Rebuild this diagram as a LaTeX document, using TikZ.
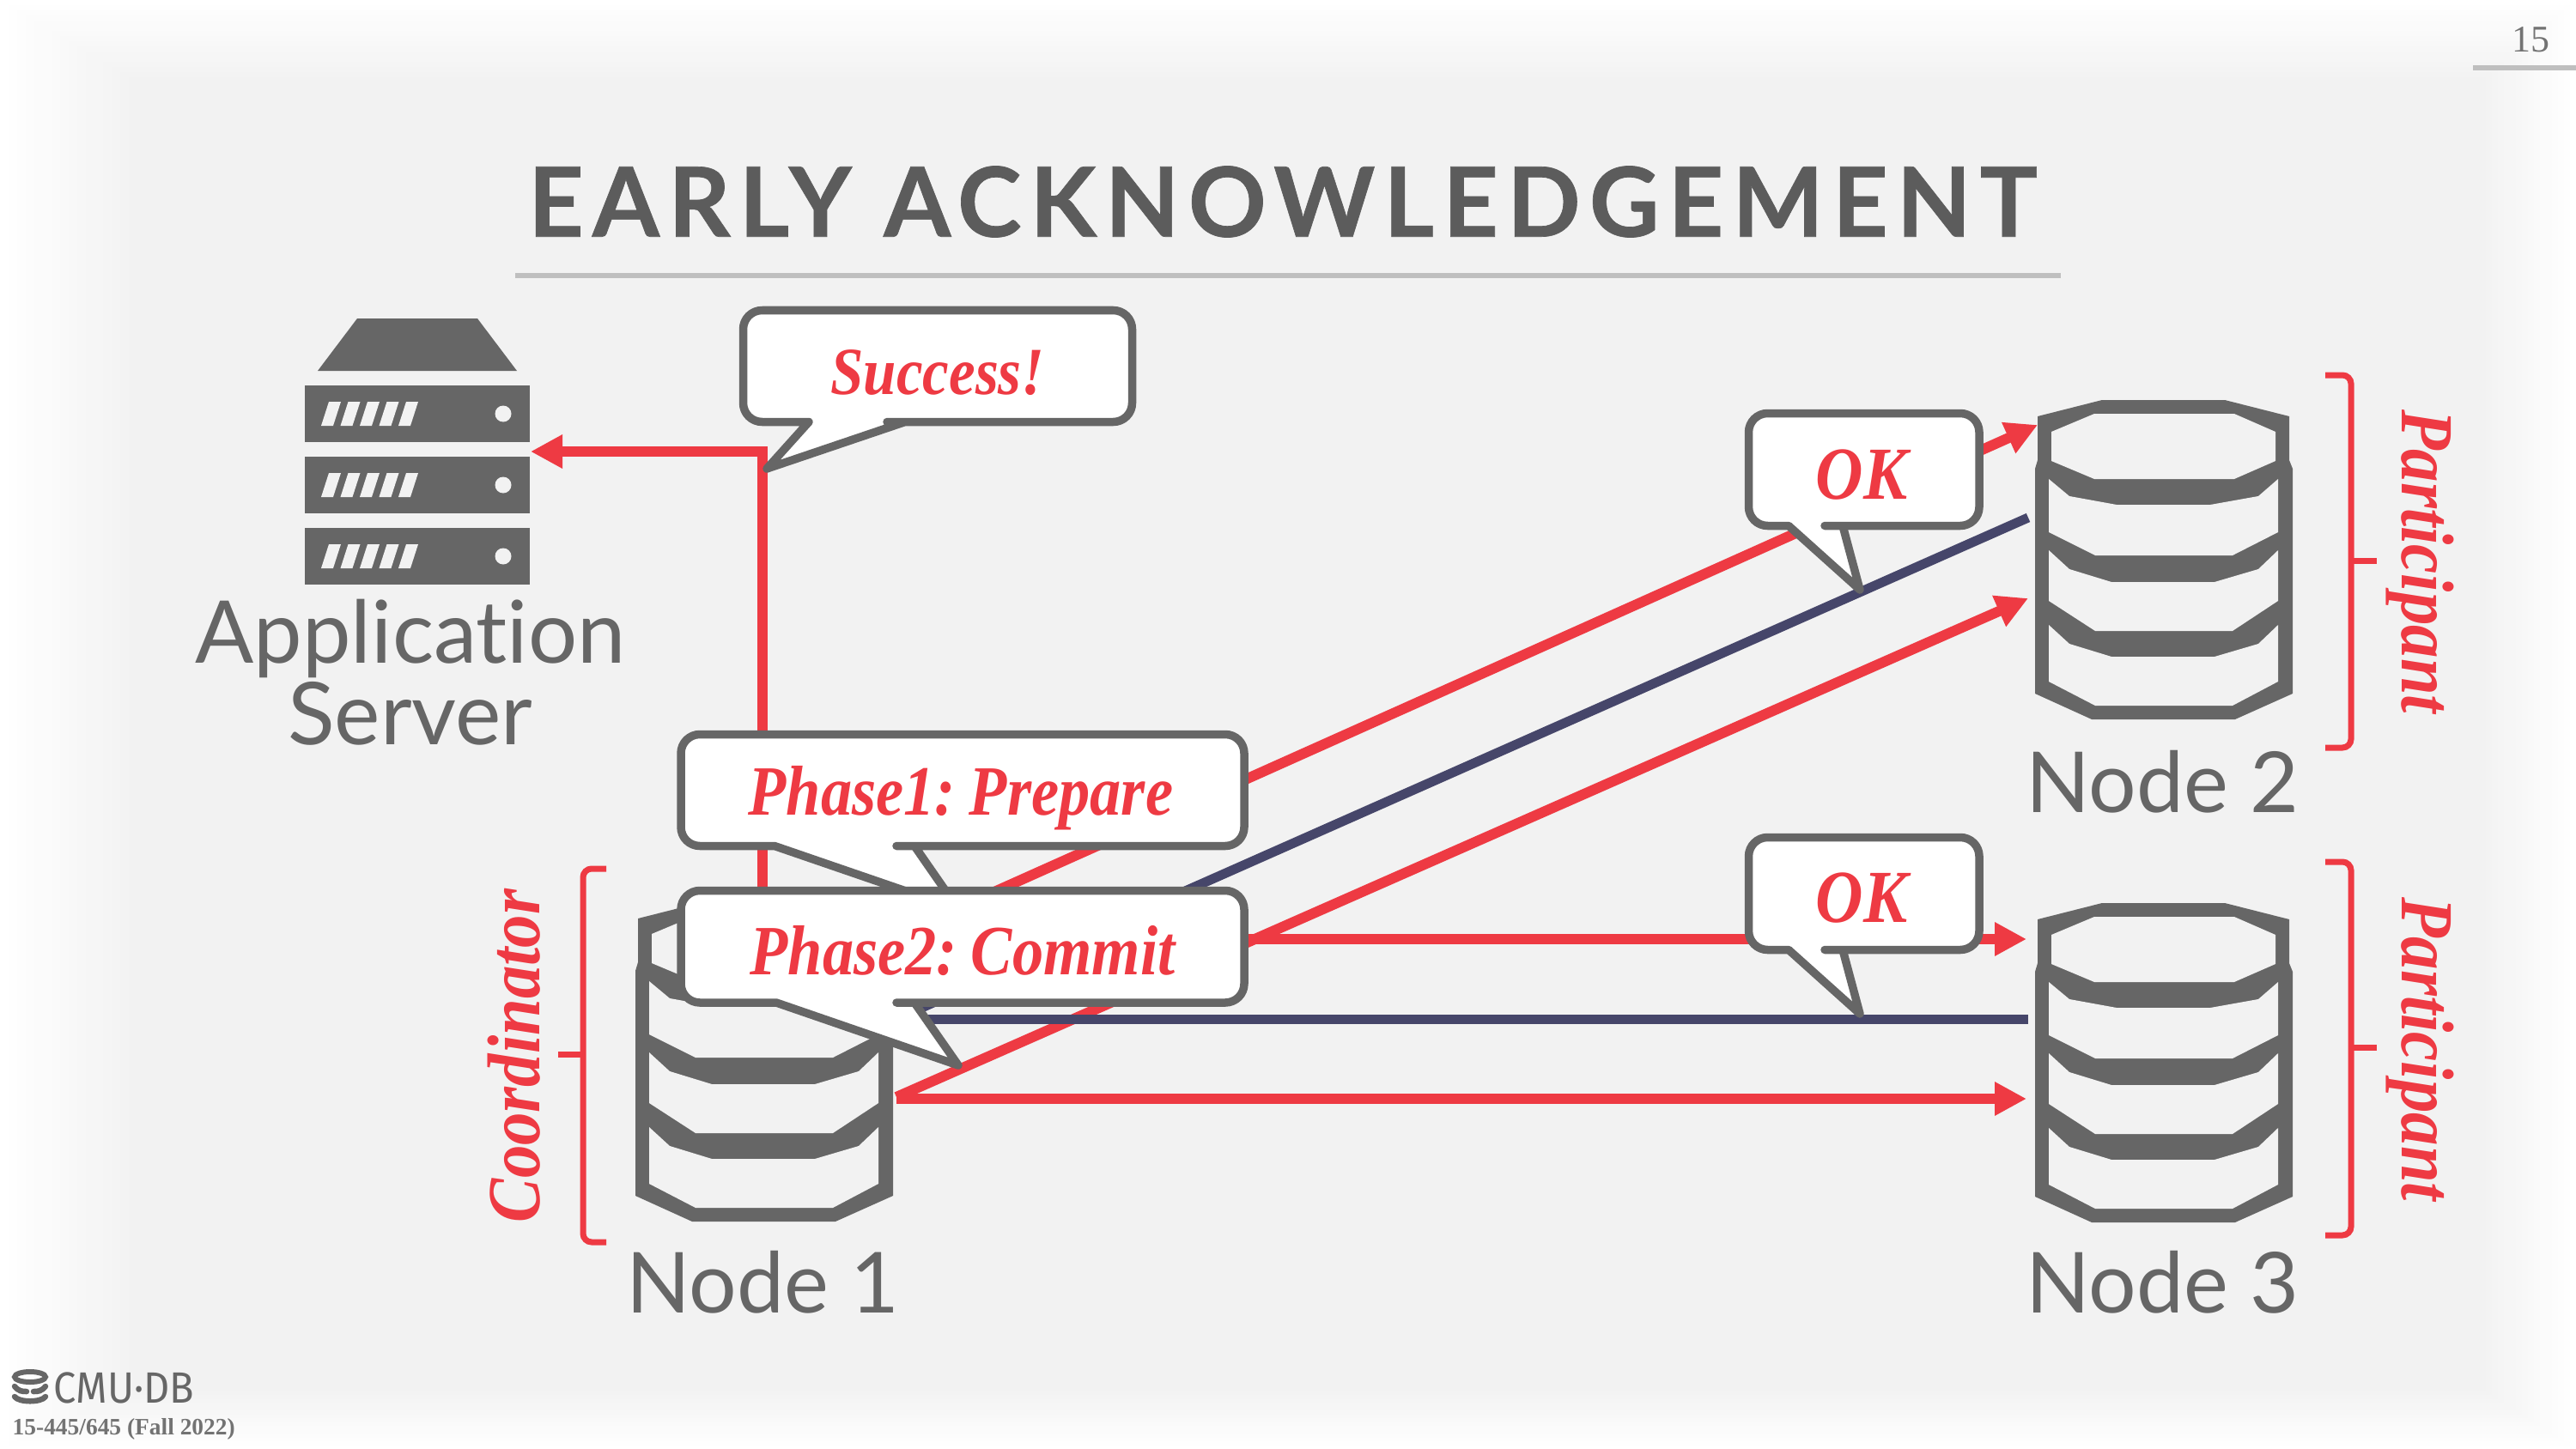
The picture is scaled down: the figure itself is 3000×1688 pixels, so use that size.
\documentclass[tikz,border=0pt]{standalone}
\usepackage{fontspec}
\setmainfont{Lato}[Ligatures=NoCommon]
\newfontfamily\redfont{Liberation Serif}[FakeStretch=0.88,WordSpace=0.55]
\newfontfamily\numfont{Liberation Serif}
\newfontfamily\titlefont{Lato}[LetterSpace=9,FakeBold=0.6]
\newfontfamily\logofont{Fira Sans}[FakeStretch=0.92]
\usetikzlibrary{arrows.meta}

\definecolor{pagegray}{HTML}{F2F2F2}
\definecolor{iconGray}{HTML}{666666}
\definecolor{msgRed}{HTML}{EE3A43}
\definecolor{ackNavy}{HTML}{46466A}

\tikzset{
	msg/.style={draw=msgRed,line width=0.12cm,-{Triangle[length=0.37cm,width=0.37cm]}},
	ack/.style={draw=ackNavy,line width=0.11cm},
	bubble/.style={draw=iconGray,fill=white,line width=0.095cm,line join=round},
	saytext/.style={inner sep=0pt,text=msgRed,font=\redfont\bfseries\itshape\fontsize{23.4}{26}\selectfont},
	roletext/.style={saytext,font=\redfont\bfseries\itshape\fontsize{24.8}{28}\selectfont},
	nodetext/.style={inner sep=0pt,text=iconGray,font=\fontsize{27.9}{27}\selectfont,align=center},
	role/.style={draw=msgRed,line width=0.07cm,rounded corners=0.1cm},
	dbcell/.style={fill=pagegray}
}

% database icon, #1 = centre x, #2 = top y
\newcommand{\dbstack}[2]{
	\begin{scope}[shift={(#1,#2)}]
		\fill[iconGray] (-147,19) -- (-72,0) -- (71,0) -- (146,19) -- (146,70) -- (150,80) -- (150,342) -- (83,372) -- (-84,372) -- (-150,342) -- (-150,80) -- (-147,70) -- cycle;
		\fill[dbcell] (-131,37) -- (-81,16) -- (82,16) -- (130,37) -- (130,71) -- (82,92) -- (-81,92) -- (-131,71) -- cycle;
		\fill[dbcell] (-134,92) -- (-110,112) -- (-55,122) -- (54,122) -- (110,112) -- (133,92) -- (133,154) -- (80,181) -- (-80,181) -- (-134,154) -- cycle;
		\fill[dbcell] (-134,175) -- (-110,197) -- (-61,212) -- (59,212) -- (110,197) -- (133,175) -- (133,234) -- (80,269) -- (-80,269) -- (-134,234) -- cycle;
		\fill[dbcell] (-134,262) -- (-110,284) -- (-61,299) -- (59,299) -- (110,284) -- (133,262) -- (133,328) -- (80,356) -- (-80,356) -- (-134,328) -- cycle;
	\end{scope}
}

% speech bubble: left, top, right, bottom, tail left x, tail right x, tail tip
\newcommand{\saybubble}[7]{
	\draw[bubble] (#5,#4) [rounded corners=0.22cm] -- (#1,#4) -- (#1,#2) -- (#3,#2) -- (#3,#4) -- (#6+1,#4) [sharp corners] -- (#6,#4) -- #7 -- cycle;
}

\begin{document}
\begin{tikzpicture}[x=0.01cm,y=-0.01cm]
	\useasboundingbox (0,0) rectangle (3000,1688);
	% page background, fading in from the white edge
	\fill[white] (0,0) rectangle (3000,1688);
	\foreach \i in {0,...,15}{
		\pgfmathsetmacro{\k}{\i/15*100}
		\fill[pagegray!\k!white] (10*\i,6*\i) rectangle (3000-7*\i,1688-4.5*\i);
	}

	% title and page number
	\node[inner sep=0pt,text=iconGray!90!black,font=\titlefont\bfseries\fontsize{32}{36}\selectfont] (title) at (1494,235) {EARLY ACKNOWLEDGEMENT};
	\draw[line width=0.06cm,draw=black!25] (600,321) -- (2400,321);
	\node[inner sep=0pt,text=black!55,font=\numfont\fontsize{12.5}{14}\selectfont] (pagenum) at (2947,46) {15};
	\draw[line width=0.06cm,draw=black!25] (2880,79) -- (3000,79);

	% application server
	\fill[iconGray] (416,371) -- (556,371) -- (602,432) -- (370,432) -- cycle;
	\foreach \y in {449,532,615}{
		\fill[iconGray] (355,\y) rectangle (617,\y+66);
		\fill[pagegray] (586,\y+33) circle (9.5);
		\foreach \s in {0,...,4}
			\fill[pagegray] (374+22.5*\s,\y+47) -- (383+22.5*\s,\y+19) -- (397+22.5*\s,\y+19) -- (388+22.5*\s,\y+47) -- cycle;
	}
	\node[nodetext,font=\fontsize{28.7}{27}\selectfont] (app) at (478,783) {Application\\Server};

	% database nodes
	\dbstack{890}{1051}
	\dbstack{2520}{466}
	\dbstack{2520}{1052}
	\node[nodetext] (node1) at (888,1494) {Node 1};
	\node[nodetext] (node2) at (2518,911) {Node 2};
	\node[nodetext] (node3) at (2518,1494) {Node 3};

	% ends of the messages
	\coordinate (n1top) at (888,1060);
	\coordinate (srvport) at (618,526);
	\coordinate (n1prep) at (1044,1090);
	\coordinate (n1ack) at (1044,1187);
	\coordinate (n1commit) at (1044,1278);
	\coordinate (n2prep) at (2373,495);
	\coordinate (n2ack) at (2362,603);
	\coordinate (n2commit) at (2362,697);
	\coordinate (n3prep) at (2360,1094);
	\coordinate (n3ack) at (2362,1187);
	\coordinate (n3commit) at (2360,1280);

	\draw[msg] (n1top) |- (srvport);
	\draw[msg] (n1prep) -- (n2prep);
	\draw[ack] (n1ack) -- (n2ack);
	\draw[msg] (n1commit) -- (n2commit);
	\draw[msg] (n1prep |- n3prep) -- (n3prep);
	\draw[ack] (n1ack) -- (n3ack);
	\draw[msg] (n1commit |- n3commit) -- (n3commit);

	% bubbles
	\saybubble{865.5}{361.5}{1318.5}{491.5}{942}{1054}{(893,546)}
	\node[saytext,font=\redfont\bfseries\itshape\fontsize{22.3}{26}\selectfont] (success) at (1092,434) {Success!};
	\saybubble{793}{855.5}{1449}{985.5}{902}{1065}{(1116,1059)}
	\node[saytext] (prepare) at (1119,930) {Phase1: Prepare};
	\saybubble{793}{1037.5}{1449}{1168}{904}{1065}{(1116,1241)}
	\node[saytext] (commit) at (1121,1108) {Phase2: Commit};
	\saybubble{2036.5}{481.5}{2305}{612.5}{2083}{2146}{(2166,687)}
	\node[roletext] (ok1) at (2168,553) {OK};
	\saybubble{2036.5}{975.5}{2305}{1106.5}{2083}{2146}{(2166,1181)}
	\node[roletext] (ok2) at (2168,1046) {OK};

	% brackets and roles
	\draw[role] (2708,437) -- (2738,437) -- (2738,871) -- (2708,871);
	\draw[role,rounded corners=0.05cm] (2738,653) -- (2768,653);
	\node[roletext,rotate=-90] (part1) at (2818,654) {Participant};
	\draw[role] (2708,1004) -- (2738,1004) -- (2738,1439) -- (2708,1439);
	\draw[role,rounded corners=0.05cm] (2738,1220) -- (2768,1220);
	\node[roletext,rotate=-90] (part2) at (2818,1222) {Participant};
	\draw[role] (706,1012) -- (679,1012) -- (679,1447) -- (706,1447);
	\draw[role,rounded corners=0.05cm] (679,1228) -- (650,1228);
	\node[roletext,rotate=90] (coord) at (599,1230) {Coordinator};

	% course logo
	\draw[iconGray,line width=0.06cm] (35,1604) ellipse (18 and 6);
	\draw[iconGray,line width=0.065cm,line cap=round] (17,1615) .. controls (22,1621) and (26,1621) .. (31,1621);
	\draw[iconGray,line width=0.065cm,line cap=round] (53,1615) .. controls (48,1621) and (44,1621) .. (39,1621);
	\draw[iconGray,line width=0.065cm,line cap=round] (17,1627) .. controls (22,1634) and (48,1634) .. (53,1627);
	\node[anchor=west,inner sep=0pt,text=iconGray,font=\logofont\fontsize{14.5}{16}\selectfont] (logo) at (62,1617) {CMU·DB};
	\node[anchor=west,inner sep=0pt,text=black!55,font=\numfont\bfseries\fontsize{7.8}{9}\selectfont] (course) at (14,1665) {15-445/645 (Fall 2022)};
\end{tikzpicture}
\end{document}
